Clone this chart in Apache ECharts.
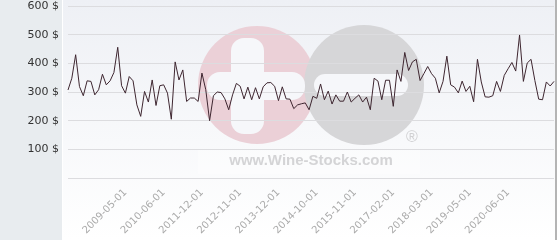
<!DOCTYPE html>
<html>
<head>
<meta charset="utf-8">
<script src="https://cdn.jsdelivr.net/npm/echarts@6/dist/echarts.min.js"></script>
<style>
html,body{margin:0;padding:0;background:#fff;}
#c{width:560px;height:240px;}
</style>
</head>
<body>
<div id="c"></div>
<script>
// Tick labels shown on the x axis (every 10th observation)
const tickLabels = ['2009-05-01','2010-06-01','2011-12-01','2012-11-01','2013-12-01','2014-10-01','2015-11-01','2017-02-01','2018-03-01','2019-05-01','2020-06-01'];
const firstTickIndex = 15;
const tickStep = 10;
// Price series ($)
const prices = [
  307,348,430,319,287,339,337,290,308,362,
  325,339,368,456,322,296,354,339,255,215,
  302,265,342,253,322,325,296,205,405,342,
  377,267,279,279,267,366,308,200,287,300,
  298,276,238,290,330,320,276,317,273,315,
  276,318,332,333,320,270,318,276,275,242,
  255,259,262,238,285,278,328,273,303,258,
  290,268,268,300,265,278,290,265,282,238,
  348,338,273,341,341,250,377,337,438,375,
  405,414,340,364,389,364,348,297,337,425,
  325,317,297,338,302,320,266,414,335,283,
  282,287,337,302,358,381,403,373,499,337,
  401,414,340,275,273,335,321,337
];
const yTicks = [0,100,200,300,400,500,600];

// Category names: tick label at labelled positions, placeholder elsewhere
const categories = prices.map((v, i) => {
  const k = (i - firstTickIndex) / tickStep;
  return (i >= firstTickIndex && Number.isInteger(k) && k < tickLabels.length) ? tickLabels[k] : ('#' + i);
});

const chart = echarts.init(document.getElementById('c'), null, {renderer: 'canvas'});
const wm = '#f6f7fa';
chart.setOption({
  animation: false,
  backgroundColor: '#ffffff',
  grid: {left: 68, right: 6, top: 6, bottom: 62, containLabel: false},
  graphic: [
    {type: 'rect', z: -10, silent: true, shape: {x: 0, y: 0, width: 62, height: 240}, style: {fill: '#e8ecef'}},
    {type: 'rect', z: -10, silent: true, shape: {x: 63, y: 0, width: 492, height: 240},
      style: {fill: new echarts.graphic.LinearGradient(0, 0, 0, 1, [{offset: 0, color: '#eef0f5'}, {offset: 1, color: '#ffffff'}])}},
    {type: 'rect', z: -10, silent: true, shape: {x: 555, y: 0, width: 2, height: 240}, style: {fill: '#b4b4b4'}},
    // watermark logo
    {type: 'circle', z: -5, silent: true, shape: {cx: 257, cy: 85, r: 59}, style: {fill: '#ebd0d7'}},
    {type: 'circle', z: -5, silent: true, shape: {cx: 364, cy: 85, r: 60}, style: {fill: '#d6d6d8'}},
    {type: 'rect', z: -4, silent: true, shape: {x: 231, y: 38, width: 33, height: 96, r: 13}, style: {fill: wm}},
    {type: 'rect', z: -4, silent: true, shape: {x: 207, y: 72, width: 98, height: 28, r: 13}, style: {fill: wm}},
    {type: 'rect', z: -4, silent: true, shape: {x: 314, y: 74, width: 94, height: 22, r: 11}, style: {fill: wm}},
    {type: 'rect', z: -4, silent: true, shape: {x: 198, y: 150, width: 222, height: 24}, style: {fill: 'rgba(255,255,255,0.35)'}},
    {type: 'text', z: -3, silent: true, x: 311, y: 161, style: {text: 'www.Wine-Stocks.com', font: 'bold 15px "Liberation Sans", Arial, sans-serif', fill: '#d4d4d6', align: 'center', verticalAlign: 'middle'}},
    {type: 'text', z: -3, silent: true, x: 412, y: 138, style: {text: '\u00AE', font: '16px "Liberation Sans", Arial, sans-serif', fill: '#d0d0d2', align: 'center', verticalAlign: 'middle'}}
  ],
  xAxis: {
    type: 'category',
    data: categories,
    boundaryGap: false,
    axisLine: {show: false},
    axisTick: {show: false},
    splitLine: {show: false},
    axisLabel: {
      rotate: 45,
      margin: 13,
      color: '#aaaaaa',
      fontSize: 10,
      fontFamily: '"DejaVu Sans", sans-serif',
      interval: (idx, val) => tickLabels.indexOf(val) >= 0,
      formatter: (val) => tickLabels.indexOf(val) >= 0 ? val : ''
    }
  },
  yAxis: {
    type: 'value',
    min: yTicks[0],
    max: yTicks[yTicks.length - 1],
    interval: 100,
    axisLine: {show: false},
    axisTick: {show: false},
    splitLine: {show: true, lineStyle: {color: '#dcdcdf', width: 1}},
    axisLabel: {
      margin: 9,
      color: '#333333',
      fontSize: 11,
      fontFamily: '"DejaVu Sans", sans-serif',
      formatter: (v) => v === 0 ? '' : v + ' $'
    }
  },
  series: [{
    type: 'line',
    data: prices,
    symbol: 'none',
    smooth: false,
    lineStyle: {color: '#3e2630', width: 1}
  }]
});
</script>
</body>
</html>
